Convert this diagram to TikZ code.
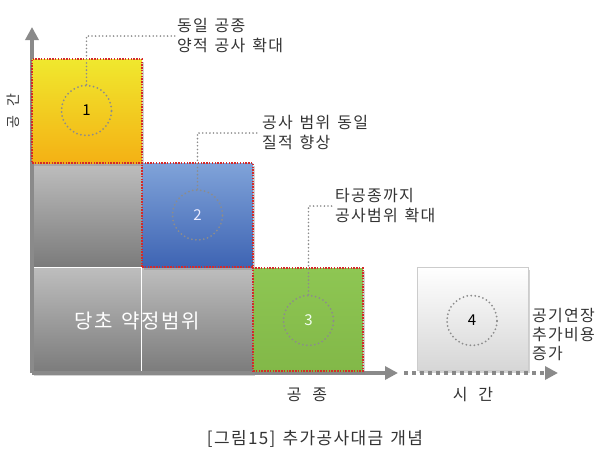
\documentclass[tikz,border=0pt]{standalone}
\usepackage{fontspec}
\setmainfont{Noto Sans CJK KR}[LetterSpace=8,WordSpace=1.4]
\usetikzlibrary{arrows.meta,shadows}
\definecolor{ytop}{HTML}{F0E82E}
\definecolor{ybot}{HTML}{F4B114}
\definecolor{btop}{HTML}{80A3D9}
\definecolor{bbot}{HTML}{3E64B3}
\definecolor{gtop}{HTML}{8EC653}
\definecolor{gbot}{HTML}{82B848}
\definecolor{grtop}{HTML}{BEBEBE}
\definecolor{grbot}{HTML}{7B7B7B}
\definecolor{axisgray}{HTML}{8A8A8A}
\definecolor{dotgray}{HTML}{8C8C8C}
\definecolor{redline}{HTML}{D42A2A}
\definecolor{txt}{HTML}{333333}
\begin{document}
\begin{tikzpicture}[x=1pt,y=-1pt,
  shadowed/.style={drop shadow={opacity=0.35,shadow xshift=2pt,shadow yshift=-2.5pt}},
  graybox/.style={rectangle,inner sep=0pt,outer sep=0pt,top color=grtop,bottom color=grbot,shadowed},
  colbox/.style={rectangle,inner sep=0pt,outer sep=0pt,draw=redline,line width=1.5pt,dash pattern=on 1.5pt off 1.3pt,shadowed},
  ring/.style={circle,minimum size=50pt,inner sep=0pt,draw=dotgray,line width=2pt,line cap=round,dash pattern=on 0pt off 4pt,font=\fontsize{15}{15}\selectfont},
  leader/.style={draw=dotgray,line width=1.8pt,line cap=round,dash pattern=on 0pt off 3.6pt},
  lbl/.style={align=left,text=txt,inner sep=2pt,font=\fontsize{16}{20}\selectfont},
  axis/.style={draw=axisgray,line width=4pt,-{Triangle[length=13pt,width=13pt]}},
  axisdot/.style={draw=axisgray,line width=4pt,dash pattern=on 4pt off 4pt,-{Triangle[length=13pt,width=13pt]}}
]
\useasboundingbox (0,0) rectangle (600,461);
% gray base blocks
\node[graybox,minimum width=110pt,minimum height=104pt] (gu) at (87,215) {};
\node[graybox,minimum width=221pt,minimum height=106pt] (gl) at (142.5,320) {};
\draw[white,line width=0.8pt] (gl.north west) -- (gl.north east);
\draw[white,line width=0.8pt] (141.5,267) -- (141.5,371);
\node[text=white,font=\fontsize{20}{20}\selectfont] (gtext) at (137,321) {당초 약정범위};
% axes
\coordinate (o) at (32,373);
\coordinate (ytip) at (32,27);
\coordinate (xtip) at (398,373);
\coordinate (xd0) at (404,373);
\coordinate (xdtip) at (558,373);
\draw[axis] (o) -- (ytip);
\draw[axis] (o) -- (xtip);
\draw[axisdot] (xd0) -- (xdtip);
% colored boxes
\node[colbox,top color=ytop,bottom color=ybot,minimum width=110pt,minimum height=104pt] (b1) at (87,111) {};
\node[colbox,top color=btop,bottom color=bbot,minimum width=111pt,minimum height=104pt] (b2) at (197.5,215) {};
\node[colbox,top color=gtop,bottom color=gbot,minimum width=110pt,minimum height=103pt] (b3) at (308,319.5) {};
\node[rectangle,inner sep=0pt,draw=black!20,line width=0.8pt,top color=white,bottom color=black!16,shadowed,minimum width=111pt,minimum height=103pt] (b4) at (472.5,318.5) {};
% rings
\node[ring,text=black] (c1) at (86.5,110.5) {1};
\node[ring,text=white!92!blue] (c2) at (197.5,215) {2};
\node[ring,text=white!95!green] (c3) at (308.5,320.5) {3};
\node[ring,text=black] (c4) at (472,320.5) {4};
% labels
\node[lbl,anchor=west] (t1) at (175,36) {동일 공종\\양적 공사 확대};
\node[lbl,anchor=west] (t2) at (260,133) {공사 범위 동일\\질적 향상};
\node[lbl,anchor=west] (t3) at (333,206) {타공종까지\\공사범위 확대};
\node[lbl,anchor=west,font=\fontsize{16}{19}\selectfont] (t4) at (530,334) {공기연장\\추가비용\\증가};
\draw[leader] (c1.north) |- (t1.west);
\draw[leader] (c2.north) |- (t2.west);
\draw[leader] (c3.north) |- (t3.west);
% axis labels
\node[text=txt,font=\fontsize{16}{16}\selectfont] (xl1) at (307,395) {공\hspace{11pt}종};
\node[text=txt,font=\fontsize{16}{16}\selectfont] (xl2) at (473,395) {시\hspace{11pt}간};
\node[text=txt,rotate=90,font=\fontsize{14}{14}\selectfont] (yl) at (13,111) {공\hspace{9pt}간};
% caption
\node[text=txt,font=\fontsize{17}{17}\selectfont] (cap) at (315,439) {[그림15] 추가공사대금 개념};
\end{tikzpicture}
\end{document}
